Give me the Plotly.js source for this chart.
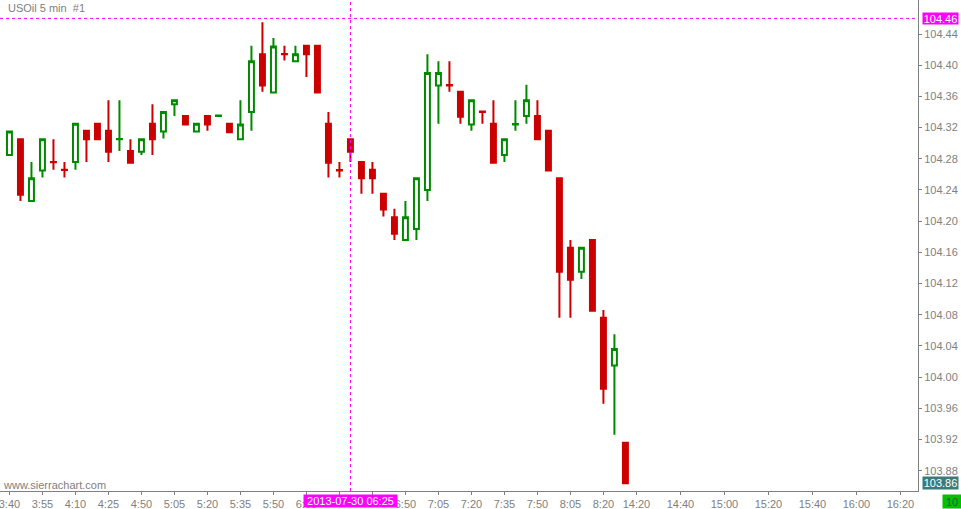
<!DOCTYPE html>
<html>
<head>
<meta charset="utf-8">
<script src="https://cdn.plot.ly/plotly-3.0.1.min.js"></script>
<style>
  html, body { margin: 0; padding: 0; background: #ffffff; }
  #chart { width: 961px; height: 509px; }
</style>
</head>
<body>
<div id="chart"></div>
<script>
// Bar times (5 min bars, USOil)
const times = ['3:40','3:45','3:50','3:55','4:00','4:05','4:10','4:15','4:20','4:25',
  '4:30','4:40','4:50','4:55','5:00','5:05','5:10','5:15','5:20','5:25',
  '5:30','5:35','5:40','5:45','5:50','5:55','6:00','6:05','6:10','6:15',
  '6:20','6:25','6:30','6:35','6:40','6:45','6:50','6:55','7:00','7:05',
  '7:10','7:15','7:20','7:25','7:30','7:35','7:40','7:45','7:50','7:55',
  '8:00','8:05','8:10','8:15','8:20','8:25','8:30'];
// Empty future slots shown on the right of the chart
const futureTimes = ['14:20','14:25','14:30','14:35','14:40','14:45','14:50','14:55',
  '15:00','15:05','15:10','15:15','15:20','15:25','15:30','15:35','15:40','15:45',
  '15:50','15:55','16:00','16:05','16:10','16:15','16:20','16:25','16:30'];

const opens = [104.285,104.305,104.226,104.265,104.276,104.266,104.276,104.316,104.325,104.316,
  104.305,104.290,104.289,104.325,104.315,104.350,104.335,104.315,104.335,104.335,
  104.325,104.305,104.340,104.414,104.365,104.4145,104.405,104.425,104.425,104.325,
  104.2655,104.305,104.276,104.266,104.235,104.205,104.176,104.190,104.240,104.374,
  104.3745,104.366,104.324,104.3405,104.325,104.285,104.324,104.335,104.335,104.316,
  104.255,104.166,104.135,104.176,104.076,104.015,103.916];
const highs = [104.315,104.305,104.276,104.305,104.305,104.276,104.325,104.316,104.325,104.355,
  104.355,104.305,104.305,104.350,104.340,104.355,104.335,104.325,104.335,104.3355,
  104.325,104.355,104.425,104.455,104.435,104.425,104.425,104.425,104.425,104.340,
  104.276,104.305,104.276,104.276,104.235,104.216,104.226,104.255,104.414,104.405,
  104.405,104.366,104.355,104.3405,104.355,104.305,104.355,104.375,104.355,104.316,
  104.255,104.176,104.166,104.176,104.086,104.055,103.916];
const lows = [104.285,104.226,104.226,104.256,104.266,104.256,104.266,104.276,104.305,104.276,
  104.290,104.275,104.285,104.285,104.306,104.335,104.324,104.315,104.316,104.335,
  104.314,104.305,104.316,104.366,104.365,104.406,104.405,104.385,104.365,104.256,
  104.256,104.276,104.235,104.235,104.206,104.176,104.176,104.176,104.226,104.325,
  104.366,104.325,104.316,104.325,104.275,104.276,104.316,104.325,104.305,104.265,
  104.076,104.076,104.126,104.085,103.966,103.926,103.864];
const closes = [104.315,104.234,104.255,104.305,104.2755,104.2655,104.325,104.305,104.305,104.289,
  104.3055,104.275,104.305,104.305,104.340,104.355,104.324,104.325,104.324,104.3355,
  104.314,104.324,104.405,104.374,104.424,104.414,104.414,104.414,104.365,104.275,
  104.265,104.289,104.255,104.255,104.215,104.184,104.205,104.255,104.390,104.390,
  104.374,104.334,104.355,104.340,104.275,104.305,104.3245,104.355,104.305,104.265,
  104.135,104.125,104.166,104.085,103.985,104.036,103.864];

// Time-axis ticks; labels under the cursor date box are left empty
const tickTimes = ['3:40','3:55','4:10','4:25','4:50','5:05','5:20','5:35','5:50','6:05',
  '6:20','6:35','6:50','7:05','7:20','7:35','7:50','8:05','8:20','14:20','14:40','15:00',
  '15:20','15:40','16:00','16:20'];
const tickLabels = ['3:40','3:55','4:10','4:25','4:50','5:05','5:20','5:35','5:50','6:05',
  '','','6:50','7:05','7:20','7:35','7:50','8:05','8:20','14:20','14:40','15:00',
  '15:20','15:40','16:00','16:20'];
const priceTicks = [103.88,103.92,103.96,104.00,104.04,104.08,104.12,104.16,104.20,104.24,
  104.28,104.32,104.36,104.40,104.44];

const symbolTitle = 'USOil\u00a05\u00a0min\u00a0\u00a0#1';
const siteText = 'www.sierrachart.com';
const cursorTime = '6:25';
const cursorDateLabel = '2013-07-30 06:25';
const cursorPrice = 104.46;
const lastPrice = closes[closes.length - 1];
const lastPriceLabel = '103.86';
const cornerLabel = '10';

const GREEN = '#008a00';
const RED = '#cc0000';
const GRAY = '#808080';
const FONT = 'Liberation Sans, Arial, sans-serif';

const trace = {
  type: 'candlestick',
  x: times,
  open: opens,
  high: highs,
  low: lows,
  close: closes,
  increasing: { line: { color: GREEN, width: 2 }, fillcolor: '#ffffff' },
  decreasing: { line: { color: RED, width: 2 }, fillcolor: RED },
  whiskerwidth: 0,
  hoverinfo: 'none',
  showlegend: false
};

const layout = {
  width: 961,
  height: 509,
  margin: { l: 0, r: 43, t: 0, b: 18, pad: 0 },
  paper_bgcolor: '#ffffff',
  plot_bgcolor: '#ffffff',
  showlegend: false,
  boxgap: 0.55,
  boxgroupgap: 0,
  font: { family: FONT, size: 11, color: GRAY },
  xaxis: {
    type: 'category',
    categoryorder: 'array',
    categoryarray: times.concat(futureTimes),
    range: [-0.86, 82.6],
    rangeslider: { visible: false },
    showgrid: false,
    zeroline: false,
    showline: true,
    linecolor: GRAY,
    linewidth: 1,
    ticks: 'outside',
    ticklen: 3,
    tickwidth: 1,
    tickcolor: GRAY,
    tickmode: 'array',
    tickvals: tickTimes,
    ticktext: tickLabels,
    tickangle: 0,
    tickfont: { family: FONT, size: 11, color: GRAY },
    fixedrange: true
  },
  yaxis: {
    side: 'right',
    range: [103.854, 104.4836],
    showgrid: false,
    zeroline: false,
    showline: true,
    mirror: true,
    linecolor: GRAY,
    linewidth: 1,
    ticks: 'outside',
    ticklen: 3,
    tickwidth: 1,
    tickcolor: GRAY,
    tickmode: 'array',
    tickvals: priceTicks,
    ticktext: priceTicks.map(v => v.toFixed(2)),
    tickfont: { family: FONT, size: 11, color: GRAY },
    fixedrange: true
  },
  shapes: [
    { type: 'line', xref: 'x', yref: 'paper', x0: cursorTime, x1: cursorTime, y0: 0, y1: 1,
      line: { color: '#ff00ff', width: 1, dash: 'dot' } },
    { type: 'line', xref: 'paper', yref: 'y', x0: 0, x1: 1, y0: cursorPrice, y1: cursorPrice,
      line: { color: '#ff00ff', width: 1, dash: 'dot' } }
  ],
  annotations: [
    { text: symbolTitle, xref: 'paper', yref: 'paper', x: 6 / 918, y: 1 - 8 / 491,
      xanchor: 'left', yanchor: 'middle', showarrow: false,
      font: { family: FONT, size: 11, color: GRAY } },
    { text: siteText, xref: 'paper', yref: 'paper', x: 1 / 918, y: 1 - 484.5 / 491,
      xanchor: 'left', yanchor: 'middle', showarrow: false,
      font: { family: FONT, size: 11, color: GRAY } },
    { text: cursorDateLabel, xref: 'x', yref: 'paper', x: cursorTime, y: -10 / 491,
      xanchor: 'center', yanchor: 'middle', showarrow: false,
      bgcolor: '#ff00ff', width: 93, height: 12, borderpad: 0,
      font: { family: FONT, size: 11, color: '#ffffff' } },
    { text: cursorPrice.toFixed(2), xref: 'paper', yref: 'y', x: 1 + 4 / 918, y: cursorPrice,
      xanchor: 'left', yanchor: 'middle', showarrow: false,
      bgcolor: '#ff00ff', width: 35, height: 11, borderpad: 0,
      font: { family: FONT, size: 11, color: '#ffffff' } },
    { text: lastPriceLabel, xref: 'paper', yref: 'y', x: 1 + 4 / 918, y: lastPrice,
      xanchor: 'left', yanchor: 'middle', showarrow: false,
      bgcolor: '#3d7b7b', width: 35, height: 12, borderpad: 0,
      font: { family: FONT, size: 11, color: '#ffffff' } },
    { text: cornerLabel, xref: 'paper', yref: 'paper', x: 1 + 24 / 918, y: -10 / 491,
      xanchor: 'left', yanchor: 'middle', showarrow: false,
      bgcolor: '#00c000', width: 18, height: 13, borderpad: 0, align: 'center',
      font: { family: FONT, size: 11, color: '#4a4a4a' } }
  ]
};

Plotly.newPlot('chart', [trace], layout, { staticPlot: true, displayModeBar: false });
</script>
</body>
</html>
